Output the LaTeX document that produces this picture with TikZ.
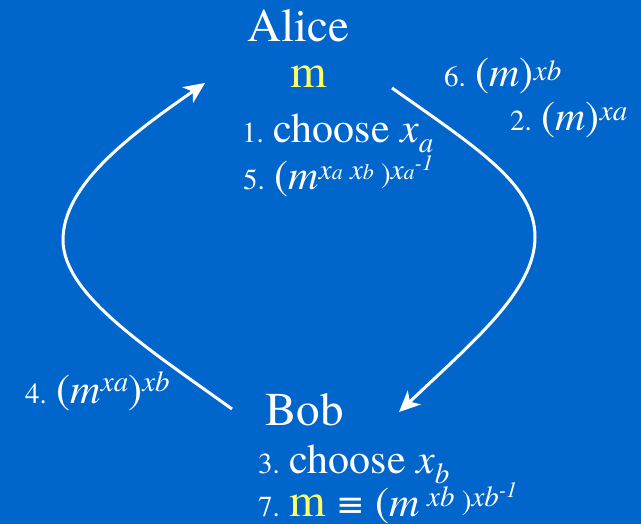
\documentclass[tikz,border=0pt]{standalone}
\usepackage{fontspec}
\usepackage{xcolor}
\usepackage{tikz}
\usetikzlibrary{arrows.meta}
\setmainfont{texgyretermes}[Extension=.otf, UprightFont=*-regular, ItalicFont=*-italic, BoldFont=*-bold, BoldItalicFont=*-bolditalic]
\newfontfamily\symfont{DejaVu Sans}
\definecolor{slideblue}{RGB}{0, 102, 204}
\definecolor{keyyellow}{RGB}{255, 255, 102}
\newcommand{\namesz}{\fontsize{47}{50}\selectfont}
\newcommand{\mainsz}{\fontsize{42}{44}\selectfont}
\newcommand{\numsz}{\fontsize{29}{30}\selectfont}
\newcommand{\supsz}{\fontsize{29}{30}\selectfont}
\newcommand{\tinysz}{\fontsize{22}{22}\selectfont}
\newcommand{\lowsub}[1]{\raisebox{-10pt}{\supsz\itshape #1}}

\begin{document}
\begin{tikzpicture}[x=1pt, y=-1pt,
    txt/.style={anchor=base west, inner sep=0pt, text=white},
    flow/.style={draw=white, line width=3pt, -{Stealth[length=21pt, width=19pt, inset=6pt]}}]
    \fill[slideblue] (0,0) rectangle (641,524);
    \useasboundingbox (0,0) rectangle (641,524);

    % Alice side
    \node[txt] (alice) at (247,42) {\namesz Alice};
    \node[txt, text=keyyellow] (alicem) at (290,88) {\namesz m};
    \node[txt] (choosea) at (242,143) {{\numsz 1. }{\mainsz choose \textit{x}}\lowsub{a}};
    \node[txt] (stepfive) at (243,190) {{\numsz 5. }{\mainsz(\textit{m}}\raisebox{10pt}{\supsz\itshape x{\tinysz a} x{\tinysz b}}\raisebox{6pt}{\supsz\ )}\raisebox{10pt}{\supsz\itshape x{\tinysz a}}\raisebox{19pt}{\tinysz\itshape -1}};

    % messages
    \node[txt] (stepsix) at (444,87) {{\numsz 6. }{\mainsz(\textit{m})}\raisebox{6pt}{\supsz\itshape xb}};
    \node[txt] (steptwo) at (510,131) {{\numsz 2. }{\mainsz(\textit{m})}\raisebox{10pt}{\supsz\itshape xa}};
    \node[txt] (stepfour) at (25,403) {{\numsz 4. }{\mainsz(\textit{m}}\raisebox{12pt}{\supsz\itshape xa}{\mainsz)}\raisebox{12pt}{\supsz\itshape xb}};

    % Bob side
    \node[txt] (bob) at (265,425) {\namesz Bob};
    \node[txt] (chooseb) at (258,473) {{\numsz 3. }{\mainsz choose \textit{x}}\lowsub{b}};
    \node[txt] (stepseven) at (258,516) {{\numsz 7. }{\namesz\textcolor{keyyellow}{m}}{\mainsz\ {\symfont\fontsize{34}{36}\selectfont ≡} (\textit{m}}\raisebox{10pt}{\supsz\itshape\ xb}\raisebox{6pt}{\supsz\ )}\raisebox{10pt}{\supsz\itshape xb}\raisebox{19pt}{\tinysz\itshape -1}};

    % arrows
    \coordinate (bobout) at (232,409);
    \coordinate (alicein) at (205,83);
    \coordinate (aliceout) at (392,88);
    \coordinate (bobin) at (399,412);
    \draw[flow] (bobout) .. controls (150,350) and (63,295) .. (63,240)
        .. controls (63,185) and (130,135) .. (alicein);
    \draw[flow] (aliceout) .. controls (480,150) and (535,185) .. (535,237)
        .. controls (535,290) and (475,340) .. (bobin);
\end{tikzpicture}
\end{document}
